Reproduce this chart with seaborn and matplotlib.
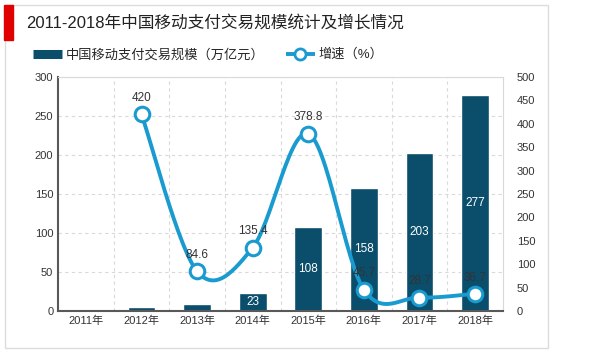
import numpy as np
import pandas as pd
import seaborn as sns
import matplotlib.pyplot as plt
from matplotlib.lines import Line2D
from matplotlib.patches import Rectangle

# %% DATA
years = ['2011年', '2012年', '2013年', '2014年', '2015年', '2016年', '2017年', '2018年']
scale = [0.8, 4.5, 9, 23, 108, 158, 203, 277]          # 万亿元
scale_labels = ['', '', '', '23', '108', '158', '203', '277']
growth_years = ['2012年', '2013年', '2014年', '2015年', '2016年', '2017年', '2018年']
growth = [420, 84.6, 135.4, 378.8, 45.7, 28.7, 36.7]    # %

bar_color = '#0b4e6b'
line_color = '#1a9bd0'

sns.set_style('white')
plt.rcParams['font.family'] = ['Liberation Sans', 'Noto Sans CJK SC', 'DejaVu Sans']


def smooth(xs, ys, n=30):
    # catmull-rom style smoothing, like office charts
    xs = np.asarray(xs, float)
    ys = np.asarray(ys, float)
    px = np.concatenate([[xs[0]], xs, [xs[-1]]])
    py = np.concatenate([[ys[0]], ys, [ys[-1]]])
    out_x, out_y = [], []
    for i in range(1, len(px) - 2):
        p0, p1, p2, p3 = py[i - 1], py[i], py[i + 1], py[i + 2]
        q0, q1, q2, q3 = px[i - 1], px[i], px[i + 1], px[i + 2]
        c1y, c2y = p1 + (p2 - p0) / 6, p2 - (p3 - p1) / 6
        c1x, c2x = q1 + (q2 - q0) / 6, q2 - (q3 - q1) / 6
        t = np.linspace(0, 1, n)
        b = [(1 - t) ** 3, 3 * (1 - t) ** 2 * t, 3 * (1 - t) * t ** 2, t ** 3]
        out_x.append(b[0] * q1 + b[1] * c1x + b[2] * c2x + b[3] * q2)
        out_y.append(b[0] * p1 + b[1] * c1y + b[2] * c2y + b[3] * p2)
    return np.concatenate(out_x), np.concatenate(out_y)


# %% PLOT
fig = plt.figure(figsize=(6, 3.54), dpi=100)
ax = fig.add_axes([0.097, 0.1215, 0.741, 0.661])

bars = pd.DataFrame({'year': years, 'scale': scale})
sns.barplot(data=bars, x='year', y='scale', color=bar_color, saturation=1,
            width=0.5, ax=ax, zorder=2)
ax.set_ylim(0, 300)
ax.set_xlim(-0.5, 7.5)
ax.set_yticks(range(0, 301, 50))
ax.set_xlabel('')
ax.set_ylabel('')

for i, (v, lab) in enumerate(zip(scale, scale_labels)):
    if lab:
        ax.text(i, v / 2, lab, ha='center', va='center', color='white', fontsize=8.5, zorder=3)

ax.set_xticks(np.arange(0.5, 7.5, 1), minor=True)
ax.grid(axis='y', which='major', color='#d9d9d9', linestyle=(0, (3, 3)), lw=0.8, zorder=0)
ax.grid(axis='x', which='minor', color='#d9d9d9', linestyle=(0, (3, 3)), lw=0.8, zorder=0)
ax.tick_params(axis='both', which='both', length=0, labelsize=8, colors='#333333')
for s in ['top', 'right']:
    ax.spines[s].set_color('#d9d9d9')
    ax.spines[s].set_linewidth(0.8)
for s in ['left', 'bottom']:
    ax.spines[s].set_color('#595959')
    ax.spines[s].set_linewidth(1.5)

ax2 = ax.twinx()
gx = [years.index(y) for y in growth_years]
sx, sy = smooth(gx, growth)
ax2.plot(sx, sy, color=line_color, lw=2.8, zorder=3, solid_capstyle='round')
sns.scatterplot(x=gx, y=growth, ax=ax2, s=110, color='white', edgecolor=line_color,
                linewidth=2.2, zorder=4)
for x, v in zip(gx, growth):
    ax2.text(x, v + 22, f'{v:g}', ha='center', va='bottom', fontsize=8.5, color='#333333', zorder=5)
ax2.set_ylim(0, 500)
ax2.set_yticks(range(0, 501, 50))
ax2.tick_params(axis='y', length=0, labelsize=8, colors='#333333', pad=10)
for s in ax2.spines.values():
    s.set_visible(False)

# legend
handles = [
    Line2D([], [], color=bar_color, lw=6.5, solid_capstyle='butt'),
    Line2D([], [], color=line_color, lw=2.8, marker='o', markersize=8,
           markerfacecolor='white', markeredgewidth=2, solid_capstyle='butt'),
]
fig.legend(handles, ['中国移动支付交易规模（万亿元）', '增速（%）'], ncol=2,
           loc='center left', bbox_to_anchor=(0.035, 0.845), frameon=False,
           fontsize=9.5, handlelength=2.2, columnspacing=1.6, handletextpad=0.3)

# title, red marker and frame
fig.text(0.043, 0.935, '2011-2018年中国移动支付交易规模统计及增长情况', fontsize=12,
         va='center', ha='left', color='#222222')
fig.patches.append(Rectangle((0.007, 0.887), 0.014, 0.099, transform=fig.transFigure,
                             color='#e00000', zorder=5))
fig.patches.append(Rectangle((0.008, 0.017), 0.905, 0.97, transform=fig.transFigure,
                             fill=False, edgecolor='#dcdcdc', lw=1))

fig.savefig('out.png', dpi=100)
